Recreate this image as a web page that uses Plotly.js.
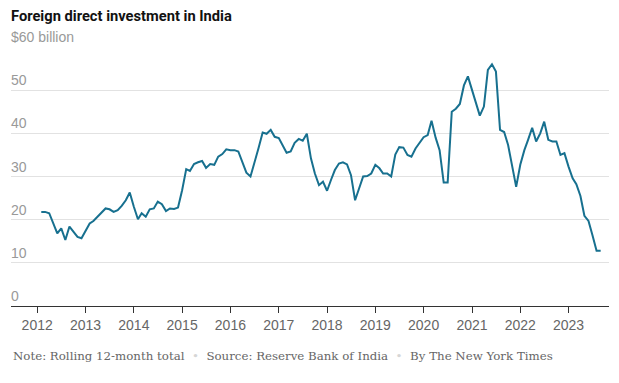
<!DOCTYPE html>
<html>
<head>
<meta charset="utf-8">
<script src="https://cdn.plot.ly/plotly-3.0.1.min.js"></script>
<style>html,body{margin:0;padding:0;background:#fff;}#chart{width:619px;height:383px;}</style>
</head>
<body>
<div id="chart"></div>
<script>
// Monthly rolling 12-month FDI totals, $ billion, from Feb 2012 to Sep 2023
const startYear = 2012;
const startMonth = 2; // February
const fdiBillions = [
  21.8, 21.8, 21.5, 19.2, 16.8, 18.0, 15.3, 18.4, 17.2, 16.0, 15.7,
  17.4, 19.1, 19.7, 20.7, 21.6, 22.6, 22.4, 21.8, 22.2, 23.2, 24.5, 26.3,
  23.0, 20.1, 21.5, 20.7, 22.4, 22.6, 24.2, 23.6, 22.0, 22.6, 22.5, 22.8,
  26.8, 31.7, 31.3, 32.9, 33.3, 33.6, 32.0, 32.9, 32.7, 34.6, 35.2, 36.3,
  36.1, 36.1, 35.8, 33.3, 30.9, 30.0, 33.0, 36.6, 40.2, 39.9, 40.8, 39.2,
  38.9, 37.2, 35.5, 35.8, 37.8, 38.7, 38.3, 39.9, 34.2, 30.7, 28.0, 28.8,
  26.7, 29.3, 31.5, 33.0, 33.3, 32.8, 30.3, 24.5, 27.5, 30.0, 30.1, 30.7,
  32.7, 31.9, 30.7, 30.7, 30.0, 35.1, 36.8, 36.7, 35.0, 34.6, 36.5, 37.9,
  39.1, 39.6, 42.9, 39.0, 36.1, 28.6, 28.6, 45.0, 45.7, 46.8, 51.1, 53.2,
  50.1, 47.4, 44.1, 46.2, 54.7, 56.0, 54.3, 40.8, 40.3, 37.3, 32.5, 27.6,
  32.7, 36.1, 38.5, 41.3, 38.1, 40.0, 42.7, 38.5, 38.1, 38.1, 35.0, 35.4,
  32.3, 29.6, 28.2, 25.5, 20.9, 19.7, 16.4, 12.8, 12.8
];
const yTickVals = [0, 10, 20, 30, 40, 50, 60];
const yTickText = ['0', '10', '20', '30', '40', '50', '$60 billion'];
const titleText = 'Foreign direct investment in India';
const noteText = 'Note: Rolling 12-month total';
const sourceText = 'Source: Reserve Bank of India';
const creditText = 'By The New York Times';

const months = fdiBillions.map((_, i) => {
  const total = (startMonth - 1) + i;
  const y = startYear + Math.floor(total / 12);
  const m = (total % 12) + 1;
  return y + '-' + String(m).padStart(2, '0') + '-01';
});

const trace = {
  x: months,
  y: fdiBillions,
  type: 'scatter',
  mode: 'lines',
  line: {color: '#17708f', width: 2},
  hoverinfo: 'skip'
};

const sep = '&nbsp;&nbsp;<span style="color:#d6d6d6">•</span>&nbsp;&nbsp;';

const layout = {
  width: 619,
  height: 383,
  margin: {l: 11, r: 10, t: 47, b: 77},
  paper_bgcolor: '#fff',
  plot_bgcolor: '#fff',
  showlegend: false,
  title: {
    text: '<b>' + titleText + '</b>',
    font: {family: 'Roboto, Arial, sans-serif', size: 14.7, color: '#121212'},
    x: 11 / 619, xanchor: 'left', xref: 'container',
    y: 1 - 16 / 383, yanchor: 'middle', yref: 'container'
  },
  xaxis: {
    type: 'date',
    range: ['2011-06-17', '2023-11-03'],
    tick0: '2012-01-01',
    dtick: 'M12',
    tickformat: '%Y',
    ticks: 'outside',
    ticklen: 6,
    tickcolor: '#333',
    tickwidth: 1,
    showline: true,
    linecolor: '#333',
    linewidth: 1,
    showgrid: false,
    zeroline: false,
    tickfont: {family: 'Arial, Liberation Sans, sans-serif', size: 14, color: '#666'},
    fixedrange: true
  },
  yaxis: {
    range: [0, 60],
    tickvals: yTickVals,
    ticktext: yTickText,
    ticklabelposition: 'inside top',
    ticklabeloverflow: 'allow',
    ticklabelstandoff: -3,
    ticks: '',
    showgrid: true,
    gridcolor: '#e2e2e2',
    gridwidth: 1,
    zeroline: false,
    showline: false,
    tickfont: {family: 'Arial, Liberation Sans, sans-serif', size: 14, color: '#999'},
    fixedrange: true
  },
  annotations: [{
    text: noteText + sep + sourceText + sep + creditText,
    xref: 'paper', yref: 'paper',
    x: 0, xanchor: 'left',
    y: -50 / 259, yanchor: 'middle',
    showarrow: false,
    font: {family: 'DejaVu Serif, Georgia, serif', size: 11.8, color: '#666'}
  }]
};

Plotly.newPlot('chart', [trace], layout, {displayModeBar: false, staticPlot: true});
</script>
</body>
</html>
